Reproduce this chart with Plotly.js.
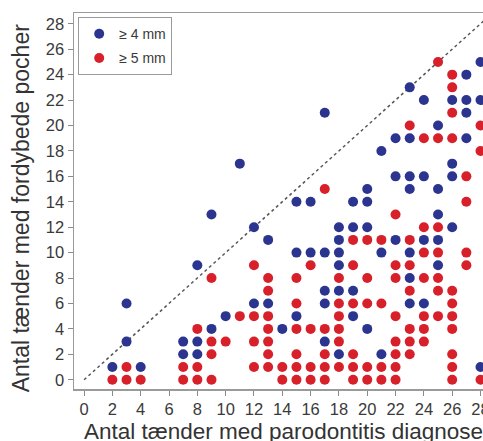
<!DOCTYPE html>
<html>
<head>
<meta charset="utf-8">
<script src="https://cdn.plot.ly/plotly-3.0.1.min.js"></script>
<style>
html,body{margin:0;padding:0;overflow:hidden;background:#fff;}
#chart{width:520px;height:441px;}
</style>
</head>
<body>
<div id="chart"></div>
<script>
// ≥ 4 mm (blue)
const blueX = [2,3,3,4,7,7,8,8,8,9,9,10,11,12,12,13,13,14,15,15,15,16,16,17,17,17,17,17,18,18,18,18,18,18,19,19,19,19,20,20,20,20,21,21,21,22,22,22,23,23,23,23,23,23,23,24,24,24,24,25,25,25,25,25,26,26,26,26,27,27,27,27,28,28,28];
const blueY = [1,3,6,1,2,3,2,3,9,4,13,5,17,6,12,6,11,4,5,10,14,10,14,3,6,7,10,21,2,7,9,10,11,12,5,7,12,14,4,12,14,15,2,10,18,11,16,19,6,8,10,15,16,19,23,6,11,16,22,9,11,13,15,20,12,16,17,22,19,21,22,24,1,22,25];
// ≥ 5 mm (red)
const redX = [2,3,3,4,7,7,8,8,8,9,9,9,9,10,11,12,12,12,12,13,13,13,13,13,13,13,14,14,15,15,15,15,15,15,16,16,16,16,17,17,17,17,17,18,18,18,18,18,18,19,19,19,19,19,19,20,20,20,20,20,21,21,21,21,22,22,22,22,22,22,22,22,23,23,23,23,23,23,23,24,24,24,24,24,24,24,25,25,25,25,25,25,25,26,26,26,26,26,26,26,26,26,26,26,27,27,27,27,28,28,28];
const redY = [0,0,1,0,0,1,0,1,4,0,2,3,8,3,5,1,3,5,9,1,2,3,4,5,7,8,0,1,0,1,2,4,6,8,0,1,4,9,0,1,2,4,15,1,3,4,5,6,8,0,1,2,6,9,11,0,1,6,8,11,0,1,6,11,0,1,2,3,5,8,9,13,2,3,4,7,9,11,20,3,4,5,8,10,12,19,5,7,8,10,12,19,25,0,1,2,4,5,6,7,19,21,23,24,9,10,14,16,0,18,20];
const seriesNames = ["\u2265 4 mm", "\u2265 5 mm"];
const xTicks = [0,2,4,6,8,10,12,14,16,18,20,22,24,26,28];
const yTicks = [0,2,4,6,8,10,12,14,16,18,20,22,24,26,28];
const xTitle = "Antal tænder med parodontitis diagnose";
const yTitle = "Antal tænder med fordybede pocher";

const W = 520, H = 441;
const mL = 74.3, mT = 13.3, mB = H - 389.3, mR = 0;
const plotW = W - mL - mR, plotH = H - mT - mB;

const traces = [
  {x: blueX, y: blueY, name: seriesNames[0], legendgroup: 'a', type: 'scatter', mode: 'markers',
   cliponaxis: false,
   marker: {color: '#2b3590', size: 10, line: {width: 0}}},
  {x: redX, y: redY, name: seriesNames[1], legendgroup: 'b', type: 'scatter', mode: 'markers',
   cliponaxis: false,
   marker: {color: '#d7202a', size: 10, line: {width: 0}}}
];

const axisCommon = {
  showgrid: false, zeroline: false, showline: true, mirror: true,
  linecolor: '#9a9a9a', linewidth: 1.5,
  ticks: 'outside', ticklen: 5, tickcolor: '#8a8a8a', tickwidth: 1,
  tickfont: {family: 'Liberation Sans, Arial, sans-serif', size: 16.5, color: '#3a3a3a'}
};

const layout = {
  width: W, height: H,
  margin: {l: mL, r: mR, t: mT, b: mB, pad: 0},
  paper_bgcolor: '#fff', plot_bgcolor: '#fff',
  showlegend: true,
  legend: {
    x: (78.3 - mL) / plotW, xanchor: 'left',
    y: (389.3 - 17.3) / plotH, yanchor: 'top',
    bordercolor: '#9a9a9a', borderwidth: 1.2, bgcolor: '#fff',
    font: {family: 'Liberation Sans, Arial, sans-serif', size: 14, color: '#3a3a3a'},
    itemwidth: 30, tracegroupgap: 3
  },
  xaxis: Object.assign({}, axisCommon, {
    range: [-0.71, -0.71 + plotW / 14.15],
    tickmode: 'array', tickvals: xTicks
  }),
  yaxis: Object.assign({}, axisCommon, {
    range: [-0.73, 28.85],
    tickmode: 'array', tickvals: yTicks
  }),
  shapes: [{
    type: 'line', xref: 'x', yref: 'y', x0: 0, y0: 0, x1: 32, y1: 32,
    line: {color: '#555', width: 1.5, dash: 'dot'}, layer: 'below'
  }],
  annotations: [
    {text: xTitle, xref: 'paper', yref: 'paper',
     x: (82 - mL) / plotW, xanchor: 'left',
     y: (389.3 - 431.5) / plotH, yanchor: 'middle', showarrow: false,
     font: {family: 'Liberation Sans, Arial, sans-serif', size: 22.5, color: '#333'}},
    {text: yTitle, xref: 'paper', yref: 'paper', textangle: -90,
     x: (21 - mL) / plotW, xanchor: 'center',
     y: (389.3 - 208) / plotH, yanchor: 'middle', showarrow: false,
     font: {family: 'Liberation Sans, Arial, sans-serif', size: 23, color: '#333'}}
  ]
};

Plotly.newPlot('chart', traces, layout, {displayModeBar: false, staticPlot: true});
</script>
</body>
</html>
